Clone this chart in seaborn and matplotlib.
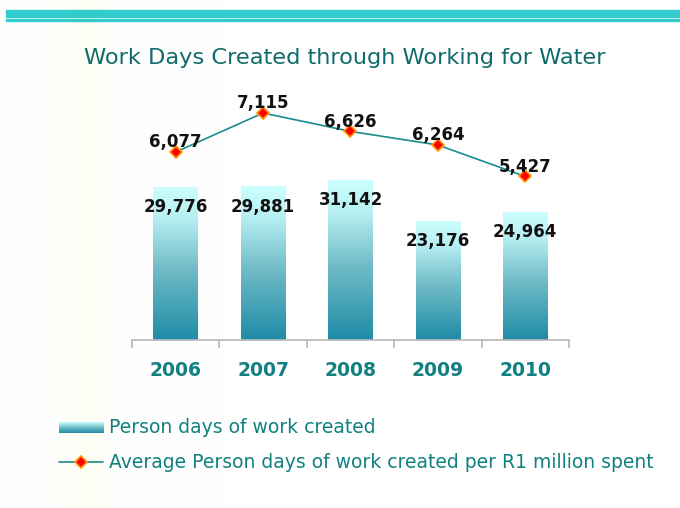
import numpy as np
import pandas as pd
import matplotlib
matplotlib.use("Agg")
import matplotlib.pyplot as plt
from matplotlib.colors import LinearSegmentedColormap
from matplotlib.lines import Line2D
from matplotlib.patches import Rectangle
import seaborn as sns

# ---- data ----
years = ["2006", "2007", "2008", "2009", "2010"]
person_days = [29776, 29881, 31142, 23176, 24964]
avg_per_million = [6077, 7115, 6626, 6264, 5427]
title = "Work Days Created through Working for Water"
legend_bar = "Person days of work created"
legend_line = "Average Person days of work created per R1 million spent"

sns.set_theme(style="white")
plt.rcParams["font.family"] = ["DejaVu Sans"]

W, H = 680, 508
fig = plt.figure(figsize=(W / 100, H / 100), dpi=100)
fig.patch.set_facecolor("white")

def fx(px):
    return px / W

def fy(py):
    return 1 - py / H

# faint background stripe on the left
bg = fig.add_axes([0, 0, 1, 1], zorder=-10)
bg.set_axis_off()
xs = np.linspace(0, 1, 680)
stripe = np.exp(-((xs * W - 85) / 25) ** 2) * 0.03
img = np.ones((1, 680, 3))
img[0, :, 2] -= stripe * 1.5
img[0, :, 0] -= stripe * 0.3
img[0, :, 1] -= stripe * 0.2
bg.imshow(img, aspect="auto", extent=[0, 1, 0, 1])
bg.set_xlim(0, 1)
bg.set_ylim(0, 1)

# top decorative bands
band_col = "#33cccc"
fig.patches.append(Rectangle((fx(6), fy(17)), 1, fy(10) - fy(17), transform=fig.transFigure,
                             color=band_col, zorder=1))
fig.patches.append(Rectangle((fx(6), fy(21.3)), 1, fy(19.3) - fy(21.3), transform=fig.transFigure,
                             color=band_col, zorder=1))

# title
fig.text(fx(345), fy(58), title, ha="center", va="center", fontsize=16.2,
         color="#0f6b6b")

# main axes
top_px, bot_px, left_px, right_px = 95, 340, 132, 569
ax = fig.add_axes([fx(left_px), fy(bot_px), fx(right_px - left_px), fy(top_px) - fy(bot_px)])
ax.patch.set_alpha(0)

df = pd.DataFrame({"year": years, "days": person_days, "avg": avg_per_million})
sns.barplot(data=df, x="year", y="days", order=years, ax=ax, width=0.51,
            color="#8fd0d6", saturation=1, edgecolor="none")
ax.set_ylim(0, (bot_px - top_px) * 194.6)

cmap = LinearSegmentedColormap.from_list(
    "bar", [(0, "#1e8ca6"), (0.45, "#6fbac6"), (0.8, "#b8f0f2"), (1, "#ccffff")])
grad = np.linspace(0, 1, 256).reshape(-1, 1)
for p in ax.patches:
    x0, y0 = p.get_x(), p.get_y()
    w, h = p.get_width(), p.get_height()
    p.set_facecolor("none")
    im = ax.imshow(grad, cmap=cmap, aspect="auto", origin="lower",
                   extent=[x0, x0 + w, y0, y0 + h], zorder=2)
    im.set_clip_path(p)

for i, v in enumerate(person_days):
    ax.annotate(f"{v:,}", (i, v), xytext=(0, -14.5), textcoords="offset points",
                ha="center", va="center", fontsize=12, fontweight="bold",
                color="#111111", zorder=5)

ax2 = ax.twinx()
sns.pointplot(data=df, x="year", y="avg", order=years, ax=ax2, color="#1a8c8c",
              markers="D", linestyles="-", markersize=6, linewidth=1.2)
for ln in ax2.lines:
    ln.set_markerfacecolor("#ff0000")
    ln.set_markeredgecolor("#ff9900")
    ln.set_markeredgewidth(1.2)
    ln.set_zorder(4)
ax2.set_ylim(1077, 7594)
for i, v in enumerate(avg_per_million):
    ax2.annotate(f"{v:,}", (i, v), xytext=(0, 7), textcoords="offset points",
                 ha="center", va="center", fontsize=12, fontweight="bold",
                 color="#111111", zorder=6)

for a in (ax, ax2):
    a.set_xlim(-0.5, len(years) - 0.5)
    a.set_xlabel("")
    a.set_ylabel("")
    a.set_yticks([])
    for s in ("top", "left", "right"):
        a.spines[s].set_visible(False)
ax2.spines["bottom"].set_visible(False)
ax.spines["bottom"].set_color("#b8b8b8")
ax.spines["bottom"].set_linewidth(1.2)

ax.set_xticks(range(len(years)))
ax.set_xticklabels(years)
ax.tick_params(axis="x", which="major", bottom=False, length=0, pad=15, labelsize=13.5,
               labelcolor="#128080")
for lab in ax.get_xticklabels():
    lab.set_fontweight("bold")
ax.set_xticks(np.arange(-0.5, len(years)), minor=True)
ax.tick_params(axis="x", which="minor", bottom=True, length=6, width=1.2, color="#b8b8b8",
               direction="out")
ax2.tick_params(axis="x", which="both", bottom=False, labelbottom=False)

# legend (manual)
leg_col = "#128080"
sw = fig.add_axes([fx(59), fy(433), fx(103 - 59), fy(422) - fy(433)])
sw.imshow(grad, cmap=cmap, aspect="auto", origin="lower", extent=[0, 1, 0, 1])
sw.set_axis_off()
fig.text(fx(109), fy(427.5), legend_bar, ha="left", va="center", fontsize=13.5, color=leg_col)

fig.lines.append(Line2D([fx(59), fx(103)], [fy(462), fy(462)], transform=fig.transFigure,
                        color="#1a8c8c", lw=1.2))
fig.lines.append(Line2D([fx(81)], [fy(462)], transform=fig.transFigure, marker="D",
                        markersize=6, markerfacecolor="#ff0000", markeredgecolor="#ff9900",
                        markeredgewidth=1.2, linestyle="none"))
fig.text(fx(109), fy(462), legend_line, ha="left", va="center", fontsize=13.5, color=leg_col)

fig.savefig("out.png", dpi=100, facecolor="white")
